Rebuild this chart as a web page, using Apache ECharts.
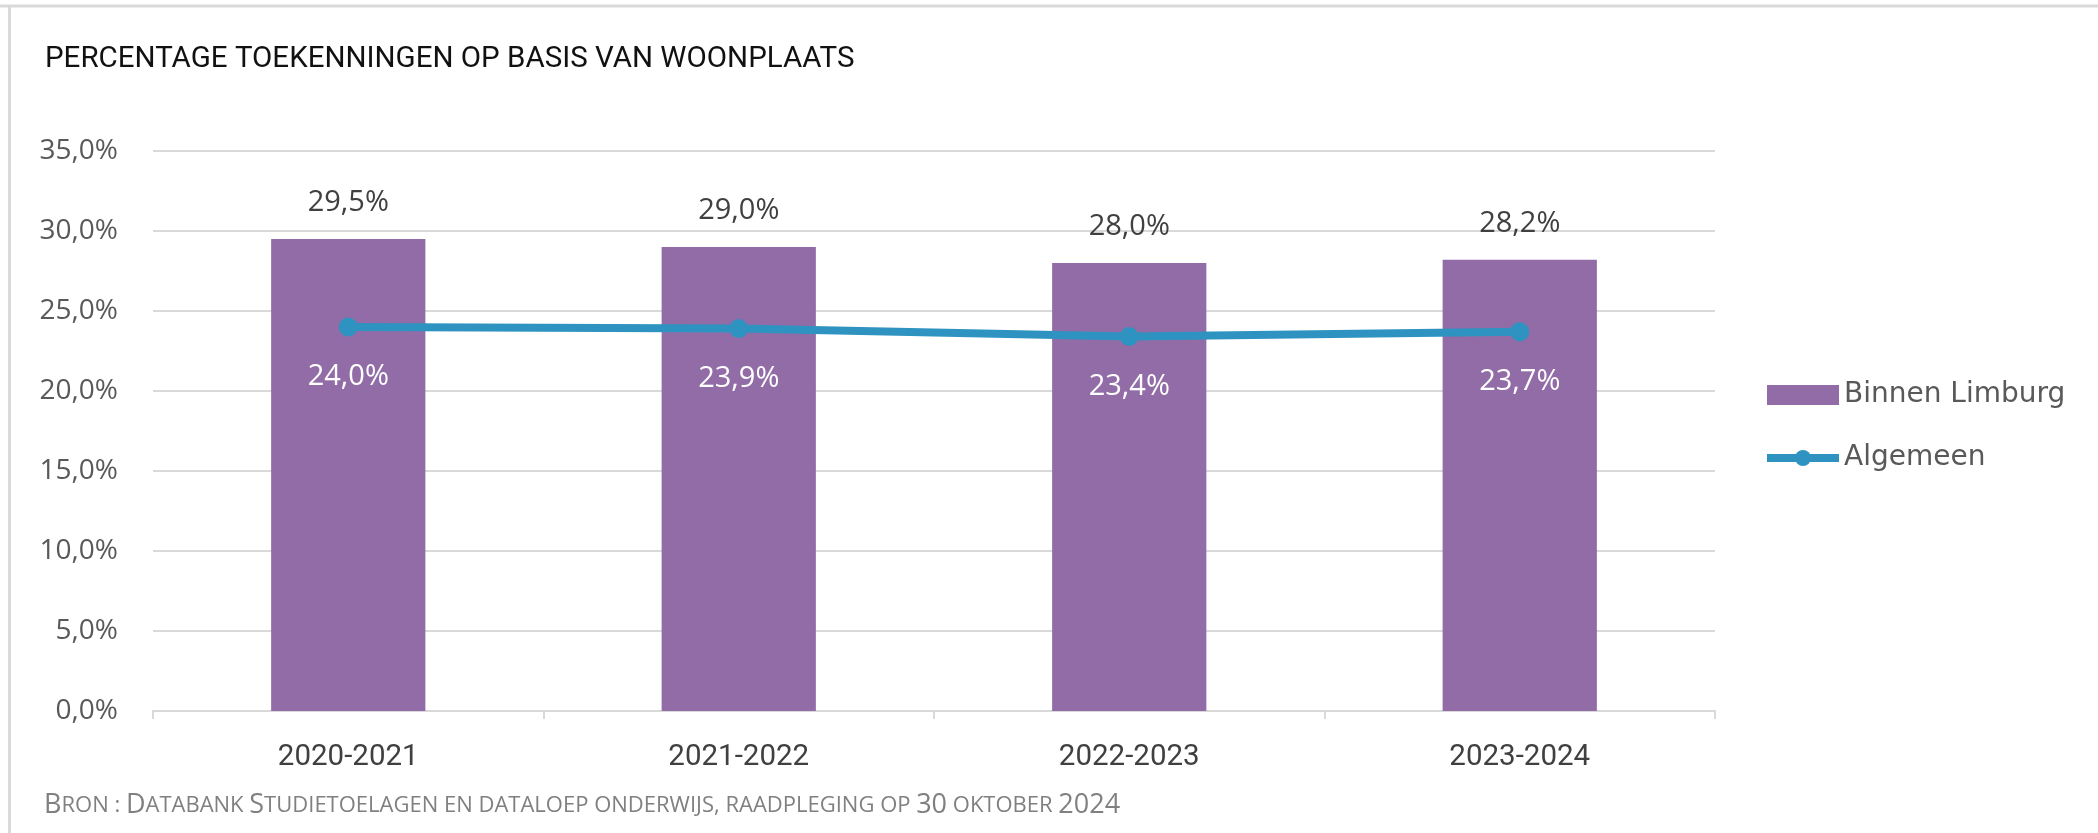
<!DOCTYPE html>
<html>
<head>
<meta charset="utf-8">
<script src="https://cdn.jsdelivr.net/npm/echarts@6/dist/echarts.min.js"></script>
<style>
html,body{margin:0;padding:0;background:#fff;}
#main{width:2098px;height:833px;}
</style>
</head>
<body>
<div id="main"></div>
<script>
// percentage toekenningen per academiejaar
var categories = ['2020-2021', '2021-2022', '2022-2023', '2023-2024'];
var binnenLimburg = [29.5, 29.0, 28.0, 28.2];
var algemeen = [24.0, 23.9, 23.4, 23.7];
var yTicks = {min: 0, max: 35, interval: 5};

function pct(v){
	return Number(v).toFixed(1).replace('.', ',') + '%';
}

var myChart = echarts.init(document.getElementById('main'));

myChart.setOption({
	animation: false,
	title: {
		text: 'PERCENTAGE TOEKENNINGEN OP BASIS VAN WOONPLAATS',
		left: 40,
		top: 40,
		textStyle: {
			fontFamily: 'Roboto',
			fontSize: 29.5,
			fontWeight: 'normal',
			color: '#111111'
		}
	},
	graphic: [
		{type: 'line', shape: {x1: 0, y1: 6, x2: 2098, y2: 6}, style: {stroke: '#d9d9d9', lineWidth: 3}},
		{type: 'line', shape: {x1: 9.5, y1: 6, x2: 9.5, y2: 833}, style: {stroke: '#d9d9d9', lineWidth: 3}},
		{
			type: 'text',
			left: 44,
			top: 792,
			style: {
				text: '{b|B}{s|RON : }{b|D}{s|ATABANK }{b|S}{s|TUDIETOELAGEN EN DATALOEP ONDERWIJS, RAADPLEGING OP }{b|30}{s| OKTOBER }{b|2024}',
				rich: {
					b: {fontFamily: 'Open Sans', fontSize: 27, fill: '#808080'},
					s: {fontFamily: 'Open Sans', fontSize: 22, fill: '#808080'}
				}
			}
		}
	],
	legend: {
		orient: 'vertical',
		left: 1758,
		top: 376,
		itemWidth: 72,
		itemHeight: 20,
		itemGap: 35,
		textStyle: {
			fontFamily: 'DejaVu Sans',
			fontSize: 28,
			lineHeight: 28,
			color: '#595959'
		},
		data: [
			{name: 'Binnen Limburg', icon: 'rect'},
			{name: 'Algemeen', lineStyle: {width: 8, color: '#2e93c0'}}
		]
	},
	grid: {
		left: 153,
		right: 383,
		top: 151,
		bottom: 122
	},
	xAxis: {
		type: 'category',
		data: categories,
		axisLine: {lineStyle: {color: '#d9d9d9', width: 2}},
		axisTick: {show: true, length: 8, lineStyle: {color: '#d9d9d9', width: 2}},
		axisLabel: {
			margin: 32,
			fontFamily: 'Roboto',
			fontSize: 29.5,
			color: '#404040'
		}
	},
	yAxis: {
		type: 'value',
		min: yTicks.min,
		max: yTicks.max,
		interval: yTicks.interval,
		axisLine: {show: false},
		axisTick: {show: false},
		splitLine: {lineStyle: {color: '#d9d9d9', width: 2}},
		axisLabel: {
			margin: 35,
			fontFamily: 'Open Sans',
			fontSize: 28,
			color: '#595959',
			formatter: pct
		}
	},
	series: [
		{
			name: 'Binnen Limburg',
			type: 'bar',
			data: binnenLimburg,
			barWidth: '39.5%',
			itemStyle: {color: '#926ca6'},
			label: {
				show: true,
				position: 'top',
				distance: 22,
				fontFamily: 'Open Sans',
				fontSize: 29,
				color: '#404040',
				formatter: function(p){ return pct(p.value); }
			}
		},
		{
			name: 'Algemeen',
			type: 'line',
			data: algemeen,
			symbol: 'circle',
			symbolSize: 19,
			lineStyle: {color: '#2e93c0', width: 8},
			itemStyle: {color: '#2e93c0'},
			label: {
				show: true,
				position: 'bottom',
				distance: 26,
				fontFamily: 'Open Sans',
				fontSize: 29,
				color: '#ffffff',
				formatter: function(p){ return pct(p.value); }
			}
		}
	]
});
</script>
</body>
</html>
